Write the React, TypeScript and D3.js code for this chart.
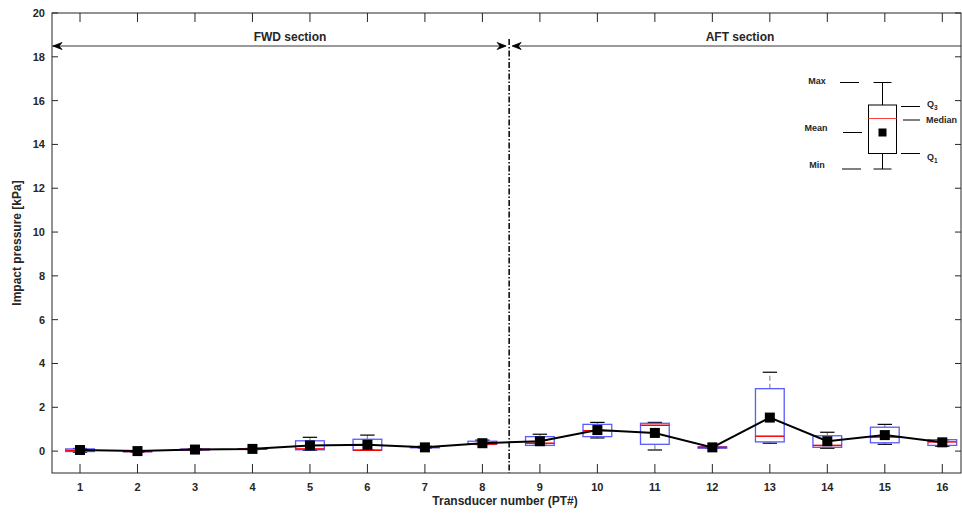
import React from "react";
import * as d3 from "d3";

const transducers = [1, 2, 3, 4, 5, 6, 7, 8, 9, 10, 11, 12, 13, 14, 15, 16];
const minVals = [-0.05, -0.05, 0.04, 0.07, 0.04, 0.04, 0.14, 0.3, 0.26, 0.6, 0.05, 0.12, 0.36, 0.13, 0.31, 0.22];
const q1Vals = [-0.02, -0.03, 0.05, 0.08, 0.06, 0.04, 0.15, 0.31, 0.26, 0.66, 0.31, 0.13, 0.42, 0.17, 0.38, 0.26];
const medianVals = [0.03, -0.02, 0.07, 0.09, 0.1, 0.04, 0.18, 0.32, 0.36, 0.93, 1.18, 0.17, 0.68, 0.26, 0.64, 0.42];
const q3Vals = [0.1, 0.0, 0.09, 0.11, 0.47, 0.54, 0.2, 0.45, 0.66, 1.22, 1.27, 0.2, 2.85, 0.7, 1.09, 0.52];
const maxVals = [0.12, 0.02, 0.1, 0.12, 0.63, 0.73, 0.22, 0.5, 0.77, 1.31, 1.31, 0.21, 3.6, 0.86, 1.22, 0.52];
const meanVals = [0.05, 0.0, 0.07, 0.1, 0.26, 0.29, 0.17, 0.36, 0.45, 0.96, 0.83, 0.17, 1.53, 0.45, 0.73, 0.4];
const yTicks = [0, 2, 4, 6, 8, 10, 12, 14, 16, 18, 20];

const FONT = "'Liberation Sans', Arial, Helvetica, sans-serif";
const TXT = "#262626";

export default function App() {
  const W = 962, H = 513;
  const left = 52, right = 961, top = 13, bottom = 473;
  const x = d3.scaleLinear().domain([1, 16]).range([80, 942.3]);
  const y = d3.scaleLinear().domain([-1, 20]).range([bottom, top]);
  const unit = x(2) - x(1);
  const bw = unit * 0.5;
  const cw = unit * 0.25;
  const line = d3.line<number>().x((_, i) => x(transducers[i])).y((d) => y(d));
  const xDiv = x(8.5) - 2;
  const arrowY = 46;

  const arrowHead = (tipX: number, dir: number, key: string) => (
    <path key={key}
      d={`M${tipX},${arrowY} L${tipX - dir * 9},${arrowY - 3.5} L${tipX - dir * 6},${arrowY} L${tipX - dir * 9},${arrowY + 3.5} Z`}
      fill="#000" stroke="#000" strokeWidth={0.8} />
  );

  // legend geometry
  const lg = { x0: 868.5, x1: 896.5, q3: 105, med: 118.5, q1: 153.5, max: 82.5, min: 169, mean: 132.5 };
  const lcx = (lg.x0 + lg.x1) / 2;

  return (
    <svg width={W} height={H} style={{ position: "absolute", left: 0, top: 0, background: "#fff" }}
      fontFamily={FONT}>
      <rect x={0} y={0} width={W} height={H} fill="#fff" />
      {/* boxes */}
      {transducers.map((t, i) => {
        const cx = x(t);
        return (
          <g key={"b" + t}>
            <line x1={cx} x2={cx} y1={y(q3Vals[i])} y2={y(maxVals[i])} stroke="#8c8c8c" strokeDasharray="5,3" strokeWidth={1.2} />
            <line x1={cx} x2={cx} y1={y(q1Vals[i])} y2={y(minVals[i])} stroke="#8c8c8c" strokeDasharray="5,3" strokeWidth={1.2} />
            <line x1={cx - cw / 2} x2={cx + cw / 2} y1={y(maxVals[i])} y2={y(maxVals[i])} stroke="#000" strokeWidth={1.2} />
            <line x1={cx - cw / 2} x2={cx + cw / 2} y1={y(minVals[i])} y2={y(minVals[i])} stroke="#000" strokeWidth={1.2} />
            <rect x={cx - bw / 2} y={y(q3Vals[i])} width={bw} height={Math.max(0.5, y(q1Vals[i]) - y(q3Vals[i]))}
              fill="none" stroke="#5a5aff" strokeWidth={1.3} />
            <line x1={cx - bw / 2} x2={cx + bw / 2} y1={y(medianVals[i])} y2={y(medianVals[i])} stroke="#ff0000" strokeWidth={1.5} />
          </g>
        );
      })}
      <path d={line(meanVals) || ""} fill="none" stroke="#000" strokeWidth={2} />
      {transducers.map((t, i) => (
        <rect key={"m" + t} x={x(t) - 5} y={y(meanVals[i]) - 5} width={10} height={10} fill="#000" />
      ))}

      {/* section divider */}
      <line x1={xDiv} x2={xDiv} y1={39} y2={bottom} stroke="#000" strokeWidth={1.5} strokeDasharray="6,2,1.5,2" />
      <line x1={left} x2={xDiv - 4} y1={arrowY} y2={arrowY} stroke="#000" strokeWidth={0.8} />
      <line x1={xDiv + 4} x2={right} y1={arrowY} y2={arrowY} stroke="#000" strokeWidth={0.8} />
      {arrowHead(left + 1, -1, "a1")}
      {arrowHead(xDiv - 3, 1, "a2")}
      {arrowHead(xDiv + 3, -1, "a3")}
      <text x={290} y={41} textAnchor="middle" fontSize={12} fontWeight="bold" fill={TXT}>FWD section</text>
      <text x={740} y={41} textAnchor="middle" fontSize={12} fontWeight="bold" fill={TXT}>AFT section</text>

      {/* legend */}
      <g>
        <line x1={lcx} x2={lcx} y1={lg.max} y2={lg.q3} stroke="#000" strokeWidth={1} />
        <line x1={lcx} x2={lcx} y1={lg.q1} y2={lg.min} stroke="#000" strokeWidth={1} />
        <line x1={lcx - 9} x2={lcx + 9} y1={lg.max} y2={lg.max} stroke="#000" strokeWidth={1} />
        <line x1={lcx - 9} x2={lcx + 9} y1={lg.min} y2={lg.min} stroke="#000" strokeWidth={1} />
        <rect x={lg.x0} y={lg.q3} width={lg.x1 - lg.x0} height={lg.q1 - lg.q3} fill="#fff" stroke="#000" strokeWidth={1} />
        <line x1={lg.x0} x2={lg.x1} y1={lg.med} y2={lg.med} stroke="#ff4040" strokeWidth={1} />
        <rect x={lcx - 4} y={lg.mean - 4} width={8} height={8} fill="#000" />
        <line x1={840} x2={859} y1={lg.max} y2={lg.max} stroke="#000" />
        <line x1={843} x2={862} y1={lg.mean} y2={lg.mean} stroke="#000" />
        <line x1={842} x2={861} y1={lg.min} y2={lg.min} stroke="#000" />
        <line x1={901} x2={920} y1={106.5} y2={106.5} stroke="#000" />
        <line x1={903} x2={920} y1={120} y2={120} stroke="#000" />
        <line x1={901} x2={920} y1={lg.q1} y2={lg.q1} stroke="#000" />
        <g fontSize={9} fontWeight="bold" fill={TXT}>
          <text x={817} y={84} textAnchor="middle">Max</text>
          <text x={816} y={131} textAnchor="middle">Mean</text>
          <text x={817} y={168} textAnchor="middle">Min</text>
          <text x={927} y={107}>Q<tspan fontSize={6.5} dy={3}>3</tspan></text>
          <text x={926} y={123}>Median</text>
          <text x={927} y={160}>Q<tspan fontSize={6.5} dy={3}>1</tspan></text>
        </g>
      </g>

      {/* axes frame */}
      <rect x={left} y={top} width={right - left} height={bottom - top} fill="none" stroke="#262626" strokeWidth={1} />
      {yTicks.map((v) => (
        <g key={"y" + v}>
          <line x1={left} x2={left + 6} y1={y(v)} y2={y(v)} stroke="#262626" />
          <line x1={right} x2={right - 6} y1={y(v)} y2={y(v)} stroke="#262626" />
          <text x={left - 7} y={y(v) + 4} textAnchor="end" fontSize={11} fontWeight="bold" fill={TXT}>{v}</text>
        </g>
      ))}
      {transducers.map((t) => (
        <g key={"x" + t}>
          <line x1={x(t)} x2={x(t)} y1={bottom} y2={bottom - 9} stroke="#262626" />
          <line x1={x(t)} x2={x(t)} y1={top} y2={top + 9} stroke="#262626" />
          <text x={x(t)} y={491} textAnchor="middle" fontSize={11} fontWeight="bold" fill={TXT}>{t}</text>
        </g>
      ))}
      <text x={505} y={505} textAnchor="middle" fontSize={12} fontWeight="bold" fill={TXT}>Transducer number (PT#)</text>
      <text transform={`translate(21,243) rotate(-90)`} textAnchor="middle" fontSize={12} fontWeight="bold" fill={TXT}>Impact pressure [kPa]</text>
    </svg>
  );
}
